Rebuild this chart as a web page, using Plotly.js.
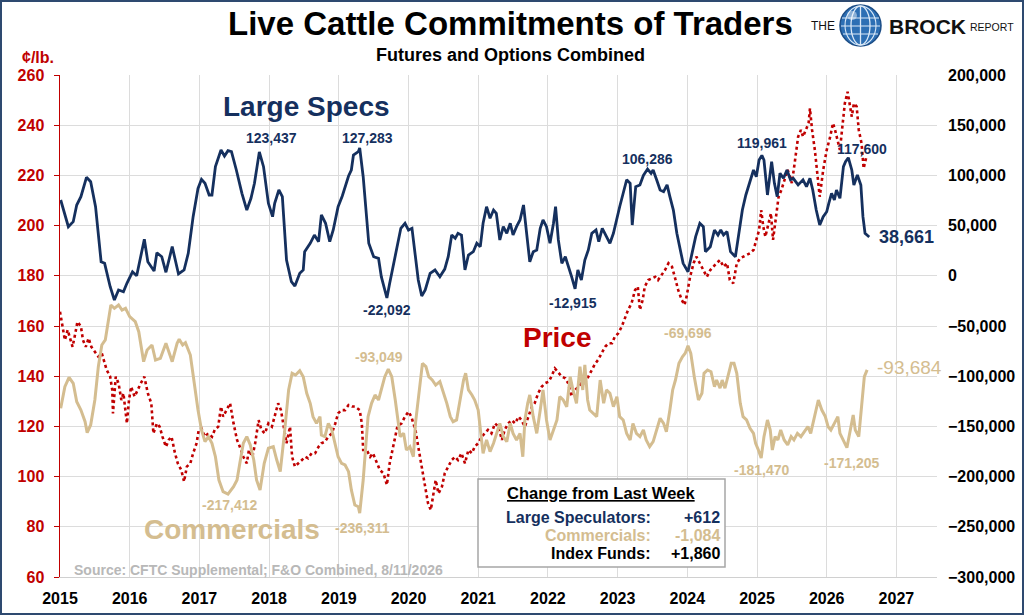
<!DOCTYPE html>
<html>
<head>
<meta charset="utf-8">
<script src="https://cdn.plot.ly/plotly-3.0.1.min.js"></script>
<style>
  html, body { margin: 0; padding: 0; background: #fff; }
  #graphDiv { width: 1020px; height: 611px; border: 2px solid #2e4a70; }
</style>
</head>
<body>
<div id="graphDiv"></div>
<script>
// Large speculators net position (contracts), weekly readings
const specYears = [2015.01,2015.12,2015.19,2015.24,2015.30,2015.38,2015.44,2015.51,2015.59,2015.64,2015.72,2015.78,2015.84,2015.91,2015.96,
  2016.04,2016.10,2016.21,2016.26,2016.35,2016.39,2016.46,2016.52,2016.61,2016.70,2016.78,2016.84,2016.91,2016.98,
  2017.03,2017.08,2017.14,2017.18,2017.23,2017.31,2017.36,2017.41,2017.46,2017.53,2017.61,2017.68,2017.74,2017.79,2017.86,2017.92,2017.99,
  2018.05,2018.08,2018.14,2018.19,2018.25,2018.32,2018.37,2018.44,2018.49,2018.51,2018.59,2018.65,2018.71,2018.75,2018.81,2018.87,2018.92,2018.99,
  2019.05,2019.14,2019.18,2019.21,2019.28,2019.30,2019.35,2019.40,2019.43,2019.50,2019.57,2019.61,2019.65,2019.69,2019.73,2019.78,2019.84,2019.89,2019.95,
  2020.00,2020.05,2020.09,2020.14,2020.19,2020.24,2020.31,2020.38,2020.45,2020.52,2020.57,2020.62,2020.67,2020.71,2020.76,2020.81,2020.86,2020.93,2020.98,
  2021.03,2021.07,2021.12,2021.17,2021.22,2021.26,2021.31,2021.36,2021.41,2021.46,2021.50,2021.55,2021.60,2021.65,2021.70,2021.74,2021.79,2021.84,2021.89,2021.93,2021.98,
  2022.03,2022.08,2022.11,2022.15,2022.20,2022.25,2022.29,2022.34,2022.39,2022.43,2022.48,2022.53,2022.58,2022.63,2022.69,2022.73,2022.78,2022.84,2022.89,2022.94,2022.99,
  2023.03,2023.08,2023.13,2023.18,2023.21,2023.26,2023.32,2023.37,2023.43,2023.48,2023.51,2023.56,2023.61,2023.66,2023.71,2023.75,2023.80,2023.85,2023.90,2023.94,
  2024.01,2024.06,2024.12,2024.18,2024.23,2024.26,2024.33,2024.39,2024.44,2024.48,2024.52,2024.57,2024.62,2024.69,2024.74,2024.79,2024.84,2024.91,2024.95,2024.99,
  2025.03,2025.07,2025.10,2025.15,2025.18,2025.21,2025.25,2025.29,2025.33,2025.38,2025.43,2025.48,2025.52,2025.59,2025.66,2025.71,2025.76,2025.80,2025.85,2025.90,2025.95,
  2026.00,2026.03,2026.07,2026.11,2026.14,2026.19,2026.24,2026.27,2026.31,2026.36,2026.39,2026.44,2026.49,2026.52,2026.55,2026.61];
const specNet = [75500,48900,53900,70500,78800,98100,93700,68800,14000,12400,-10900,-24100,-14100,-15900,-7500,
  4000,0,36400,14000,4800,23000,19000,3500,29000,1800,5800,22400,58900,87000,
  96100,92100,80500,80500,108700,125300,119300,124600,123600,105400,82200,65500,77200,92100,123437,108700,72200,
  58900,72200,85500,78800,15700,-5900,-10200,2500,5800,24000,32400,40600,34000,60600,52300,34000,45600,68800,
  79500,99400,105400,120300,123600,127283,98700,58900,32400,19000,17400,-900,-10900,-22092,-7500,9100,32400,47300,52300,
  45600,47300,25700,-4200,-20100,-14100,2500,5800,-900,6700,19000,40600,37300,42300,40600,5800,20700,24000,32400,
  29000,52300,68800,57300,65500,62200,35700,48900,42300,52300,40600,48900,55600,70500,35700,14000,24000,25700,47300,55600,48900,
  32400,52300,68800,35700,12400,19000,10800,-900,-12915,5800,-4200,15700,25700,42300,45600,34000,47300,39000,32400,42300,58900,
  68800,82200,95600,92100,50600,88800,90500,100000,106286,102100,105400,95600,85500,83800,90500,78800,65500,42300,25700,12400,
  4000,19000,39000,52300,48900,24000,29000,45600,40600,45600,40600,44000,24000,19000,42300,65500,80500,95600,105400,98700,
  115300,119961,115300,80500,95600,113600,92100,78800,102100,97100,105400,95600,97100,90500,95600,88800,97100,85500,65500,50600,58900,
  63800,72200,82200,75500,85500,77200,108700,113600,117600,105400,90500,100400,90500,58900,42300,38661];

// Commercials net position (contracts)
const commYears = [2015.01,2015.07,2015.13,2015.19,2015.24,2015.30,2015.36,2015.39,2015.44,2015.50,2015.55,2015.60,2015.65,2015.70,2015.73,2015.78,2015.84,2015.89,2015.94,
  2016.00,2016.08,2016.13,2016.20,2016.25,2016.32,2016.37,2016.44,2016.52,2016.57,2016.61,2016.68,2016.71,2016.76,2016.80,2016.87,2016.93,2016.98,
  2017.03,2017.08,2017.13,2017.18,2017.23,2017.28,2017.34,2017.41,2017.49,2017.54,2017.58,2017.63,2017.68,2017.73,2017.78,2017.82,2017.87,2017.93,2017.99,
  2018.06,2018.11,2018.16,2018.22,2018.28,2018.33,2018.38,2018.44,2018.49,2018.54,2018.59,2018.63,2018.68,2018.73,2018.75,2018.80,2018.85,2018.90,2018.95,2018.99,
  2019.04,2019.09,2019.14,2019.18,2019.23,2019.28,2019.30,2019.35,2019.39,2019.42,2019.47,2019.52,2019.57,2019.61,2019.66,2019.71,2019.76,2019.81,2019.85,2019.88,2019.93,2019.97,
  2020.02,2020.07,2020.10,2020.15,2020.20,2020.25,2020.29,2020.34,2020.39,2020.45,2020.50,2020.55,2020.60,2020.64,2020.69,2020.74,2020.79,2020.82,2020.86,2020.91,2020.95,
  2021.00,2021.04,2021.07,2021.12,2021.17,2021.22,2021.27,2021.31,2021.36,2021.41,2021.46,2021.50,2021.55,2021.60,2021.64,2021.67,2021.71,2021.74,2021.79,2021.84,2021.89,2021.93,2021.98,
  2022.03,2022.08,2022.13,2022.17,2022.22,2022.27,2022.32,2022.36,2022.41,2022.46,2022.50,2022.53,2022.57,2022.60,2022.65,2022.70,2022.75,2022.80,2022.84,2022.89,2022.94,2022.99,
  2023.03,2023.08,2023.13,2023.18,2023.22,2023.27,2023.32,2023.37,2023.41,2023.46,2023.51,2023.56,2023.61,2023.66,2023.70,2023.75,2023.79,2023.83,2023.88,2023.93,2023.97,
  2024.01,2024.05,2024.10,2024.16,2024.21,2024.24,2024.29,2024.34,2024.39,2024.42,2024.47,2024.50,2024.54,2024.58,2024.63,2024.67,2024.71,2024.76,2024.80,2024.85,2024.90,2024.95,2024.98,
  2025.02,2025.06,2025.10,2025.15,2025.19,2025.22,2025.26,2025.30,2025.34,2025.39,2025.44,2025.49,2025.53,2025.58,2025.63,2025.68,2025.73,2025.77,2025.82,2025.88,2025.93,2025.98,
  2026.02,2026.06,2026.11,2026.16,2026.19,2026.24,2026.29,2026.33,2026.38,2026.41,2026.46,2026.50,2026.54,2026.58];
const commNet = [-132000,-110500,-101100,-107100,-125400,-133700,-145300,-156300,-148600,-123700,-90500,-68900,-63900,-40700,-29100,-32400,-29100,-34100,-32400,
  -40700,-45700,-55700,-85500,-73900,-68900,-83900,-82200,-67200,-77200,-85500,-67200,-63200,-68900,-66600,-78900,-110500,-133700,
  -153600,-165200,-160200,-166800,-180200,-203400,-215000,-217412,-210000,-203400,-186800,-166800,-160200,-168500,-183500,-203400,-213300,-186800,-171800,
  -170200,-183500,-195100,-156900,-113700,-97100,-98800,-94500,-100500,-117000,-127000,-140300,-147000,-140300,-158600,-160200,-147000,-153600,-166800,-180200,
  -186800,-188400,-195100,-213300,-228300,-230000,-236311,-203400,-166800,-140300,-127000,-118700,-123700,-113700,-100500,-93049,-100500,-123700,-147000,-160200,-156900,-173500,
  -170200,-180200,-147000,-113700,-87200,-90500,-100500,-103800,-108800,-105400,-115400,-127000,-140300,-145300,-143600,-123700,-103800,-97100,-113700,-118700,-123700,
  -133700,-160200,-176800,-163500,-175100,-166800,-156900,-147000,-160200,-165200,-147000,-156900,-163500,-156900,-180200,-143600,-127000,-118700,-140300,-156900,-133700,-113700,-143600,
  -163500,-153600,-143600,-120400,-123700,-130400,-100500,-113700,-127000,-90500,-113700,-88800,-123700,-133700,-137000,-140300,-103800,-127000,-113700,-117000,-130400,-120400,
  -140300,-143600,-156900,-163500,-147000,-156900,-160200,-153600,-163500,-170200,-165200,-153600,-141900,-147000,-155300,-133700,-113700,-103800,-87200,-80600,-77200,
  -69696,-77200,-100500,-123700,-117000,-97100,-93800,-95500,-110500,-103800,-112000,-103800,-112000,-100500,-87200,-87200,-97100,-127000,-140300,-143600,-151900,-156900,-166800,
  -173500,-181470,-160200,-143600,-153600,-173500,-160200,-163500,-153600,-163500,-168500,-160200,-163500,-156900,-160200,-155300,-150300,-156900,-140300,-123700,-133700,-140300,
  -150300,-153600,-147000,-140300,-156900,-163500,-171205,-156900,-138600,-153600,-160200,-130400,-100500,-93684];

// Live cattle futures price (cents per lb.)
const priceYears = [2015.00,2015.03,2015.07,2015.11,2015.14,2015.18,2015.22,2015.25,2015.30,2015.33,2015.37,2015.41,2015.45,2015.50,2015.55,2015.60,2015.64,2015.67,2015.72,2015.75,2015.76,2015.80,2015.84,2015.88,2015.91,2015.96,2015.99,
  2016.02,2016.07,2016.11,2016.16,2016.21,2016.26,2016.31,2016.34,2016.39,2016.43,2016.47,2016.52,2016.56,2016.60,2016.65,2016.69,2016.74,2016.78,2016.82,2016.87,2016.91,2016.96,2016.99,
  2017.03,2017.08,2017.13,2017.18,2017.22,2017.27,2017.31,2017.34,2017.39,2017.44,2017.49,2017.54,2017.58,2017.63,2017.68,2017.71,2017.76,2017.80,2017.85,2017.89,2017.94,2017.99,
  2018.04,2018.08,2018.13,2018.17,2018.22,2018.25,2018.30,2018.33,2018.37,2018.42,2018.47,2018.52,2018.56,2018.61,2018.66,2018.71,2018.75,2018.80,2018.85,2018.90,2018.95,2018.99,
  2019.04,2019.09,2019.14,2019.19,2019.23,2019.30,2019.33,2019.35,2019.40,2019.45,2019.49,2019.54,2019.59,2019.64,2019.69,2019.73,2019.77,2019.81,2019.84,2019.90,2019.95,
  2020.00,2020.04,2020.07,2020.10,2020.14,2020.18,2020.21,2020.25,2020.28,2020.32,2020.36,2020.39,2020.43,2020.48,2020.52,2020.57,2020.62,2020.67,2020.71,2020.76,2020.81,2020.86,2020.91,2020.95,
  2021.00,2021.05,2021.10,2021.14,2021.19,2021.24,2021.29,2021.34,2021.38,2021.43,2021.48,2021.53,2021.58,2021.62,2021.67,2021.72,2021.77,2021.81,2021.86,2021.91,2021.96,
  2022.01,2022.05,2022.10,2022.15,2022.20,2022.25,2022.29,2022.34,2022.39,2022.44,2022.48,2022.53,2022.58,2022.63,2022.68,2022.72,2022.77,2022.82,2022.87,2022.92,2022.96,
  2023.01,2023.06,2023.11,2023.15,2023.20,2023.25,2023.29,2023.32,2023.36,2023.39,2023.44,2023.49,2023.54,2023.58,2023.63,2023.68,2023.73,2023.78,2023.82,2023.87,2023.92,2023.96,2023.99,
  2024.04,2024.09,2024.13,2024.18,2024.23,2024.28,2024.33,2024.37,2024.42,2024.47,2024.52,2024.57,2024.61,2024.66,2024.71,2024.76,2024.80,2024.85,2024.90,2024.95,
  2025.00,2025.03,2025.06,2025.09,2025.12,2025.16,2025.20,2025.23,2025.27,2025.31,2025.35,2025.40,2025.44,2025.47,2025.50,2025.54,2025.59,2025.63,2025.66,2025.70,2025.74,2025.76,2025.79,2025.83,2025.87,2025.90,2025.95,
  2026.00,2026.05,2026.09,2026.12,2026.16,2026.19,2026.23,2026.26,2026.30,2026.32,2026.36,2026.39,2026.43,2026.46,2026.50,2026.53,2026.57];
const priceCents = [165.7,161.1,154.4,158.4,155.7,151.7,157.1,161.7,159.8,154.4,151.7,155.1,151.7,149.8,147.8,149.1,145.1,142.5,139.8,134.5,125.2,139.8,137.2,130.5,133.2,121.2,130.5,
  135.8,131.9,134.5,137.2,139.8,133.2,129.2,117.2,121.2,119.9,115.9,111.9,114.6,115.9,109.3,105.3,102.6,98.0,104.0,105.3,109.3,113.3,118.6,
  119.2,115.9,117.2,115.9,118.6,119.9,127.9,123.9,126.5,129.2,121.2,114.6,111.9,107.9,105.3,110.6,107.9,113.3,122.5,118.6,117.2,121.2,
  119.9,123.9,129.2,126.5,118.6,113.3,119.9,107.9,104.0,105.3,106.6,107.9,107.3,109.3,109.3,111.9,113.3,113.9,115.9,117.2,121.2,125.2,
  126.5,126.5,128.5,127.9,127.9,126.5,121.2,110.6,110.6,107.9,109.3,106.0,102.6,101.3,96.7,105.3,110.6,115.9,119.9,121.2,123.9,
  125.9,123.9,121.2,118.6,111.9,105.3,100.0,94.7,89.4,86.7,94.7,98.6,93.3,96.0,101.3,104.0,106.6,107.9,106.6,109.3,105.3,110.6,109.3,111.9,
  113.3,115.9,117.2,118.6,117.2,121.2,119.9,114.6,118.6,121.2,122.5,121.2,123.9,122.5,119.9,123.9,127.9,129.2,133.2,135.8,137.2,
  137.8,139.8,143.1,141.2,139.8,139.2,137.2,131.9,134.5,135.8,137.2,137.2,139.8,142.5,145.1,146.5,149.1,151.7,153.1,153.1,155.7,
  157.1,159.8,163.7,166.4,169.0,174.3,175.7,166.4,170.4,175.7,178.3,179.0,179.6,178.3,180.3,182.3,185.0,183.6,179.6,174.3,170.4,168.4,171.7,
  179.6,185.0,187.6,185.0,182.3,179.6,182.3,183.6,185.0,186.3,183.6,185.0,178.3,177.0,185.0,187.0,187.6,188.3,189.0,190.3,
  195.6,198.2,206.2,199.6,195.6,200.9,204.9,194.3,203.5,211.5,214.2,218.2,222.2,219.5,216.9,224.8,235.4,238.1,235.4,238.1,240.8,246.7,238.1,230.1,220.8,211.5,222.2,
  230.1,235.4,240.8,238.1,232.8,230.1,240.8,248.7,253.3,250.0,243.4,248.7,247.4,238.1,232.8,222.8,227.5];

const yearTicks = [2015,2016,2017,2018,2019,2020,2021,2022,2023,2024,2025,2026,2027];
const changeNames = ['Large Speculators:', 'Commercials:', 'Index Funds:'];
const changeValues = ['+612', '-1,084', '+1,860'];

// Labelled turning points: [year, value]
const specMarks = [[2017.86, 123437], [2019.30, 127283], [2019.69, -22092], [2022.39, -12915], [2023.43, 106286], [2025.07, 119961], [2026.31, 117600]];
const commMarks = [[2017.41, -217412], [2019.30, -236311], [2019.71, -93049], [2024.01, -69696], [2025.06, -181470], [2026.29, -171205]];

const NAVY = '#15305e';
const TAN = '#d4bd90';
const RED = '#c00000';
const FONT = 'Liberation Sans, Arial, sans-serif';

// plot area in graph pixels
const L = 58, T = 73, W = 877, H = 502;
function px(ix) { return (ix - 2 - L) / W; }
function py(iy) { return 1 - (iy - 2 - T) / H; }

const fmt = v => v.toLocaleString('en-US');

const traces = [
  {
    x: priceYears, y: priceCents, type: 'scatter', mode: 'lines', yaxis: 'y',
    line: { color: RED, width: 2.6, dash: 'dot' }, hoverinfo: 'skip'
  },
  {
    x: commYears, y: commNet, type: 'scatter', mode: 'lines', yaxis: 'y2',
    line: { color: TAN, width: 3 }, hoverinfo: 'skip'
  },
  {
    x: specYears, y: specNet, type: 'scatter', mode: 'lines', yaxis: 'y2',
    line: { color: NAVY, width: 2.8 }, hoverinfo: 'skip'
  }
];

const annotations = [];
function note(text, ix, iy, size, color, opts) {
  annotations.push(Object.assign({
    text: text, xref: 'paper', yref: 'paper', x: px(ix), y: py(iy),
    xanchor: 'center', yanchor: 'middle', showarrow: false,
    font: { family: FONT, size: size, color: color }
  }, opts || {}));
}

// titles
note('<b>Live Cattle Commitments of Traders</b>', 510, 23, 33, '#000');
note('<b>Futures and Options Combined</b>', 510, 55, 18, '#000');
note('<b>¢/lb.</b>', 38, 57, 16, RED);

// logo text
note('THE', 823, 26, 12, '#111');
note('<b>BROCK</b>', 927, 26, 21, '#111');
note('REPORT', 992, 27, 10.5, '#111');

// series names
note('<b>Large Specs</b>', 306, 107, 28, NAVY);
note('<b>Price</b>', 557, 337, 28, RED);
note('<b>Commercials</b>', 232, 529, 28, TAN);

// source
note('<b>Source: CFTC Supplemental; F&O Combined, 8/11/2026</b>', 72, 570, 14, '#b8b8b8', { xanchor: 'left' });

// change box
note('<b><u>Change from Last Week</u></b>', 601, 493, 16.5, '#000');
const rowColors = [NAVY, TAN, '#000'];
const rowY = [517, 535, 553];
changeNames.forEach((n, i) => {
  note('<b>' + n + '</b>', 653, rowY[i], 16, rowColors[i], { xanchor: 'right' });
  note('<b>' + changeValues[i] + '</b>', 722, rowY[i], 16, rowColors[i], { xanchor: 'right' });
});

// point labels
const specShift = [[12, 14], [8, 10], [0, -12], [-2, -14], [0, 10], [0, 12], [14, 9]];
specMarks.forEach((m, i) => {
  annotations.push({
    text: '<b>' + fmt(m[1]) + '</b>', x: m[0], y: m[1], xref: 'x', yref: 'y2',
    xshift: specShift[i][0], yshift: specShift[i][1], showarrow: false,
    font: { family: FONT, size: 14, color: NAVY }
  });
});
const commShift = [[2, -11], [3, -15], [-9, 12], [0, 13], [0, -12], [5, -15]];
commMarks.forEach((m, i) => {
  annotations.push({
    text: '<b>' + fmt(m[1]) + '</b>', x: m[0], y: m[1], xref: 'x', yref: 'y2',
    xshift: commShift[i][0], yshift: commShift[i][1], showarrow: false,
    font: { family: FONT, size: 14, color: TAN }
  });
});
// last values
const lastSpec = specNet.length - 1, lastComm = commNet.length - 1;
annotations.push({
  text: '<b>' + fmt(specNet[lastSpec]) + '</b>', x: specYears[lastSpec], y: specNet[lastSpec],
  xref: 'x', yref: 'y2', xanchor: 'left', xshift: 8, showarrow: false,
  font: { family: FONT, size: 18, color: NAVY }
});
annotations.push({
  text: fmt(commNet[lastComm]), x: commYears[lastComm], y: commNet[lastComm],
  xref: 'x', yref: 'y2', xanchor: 'left', xshift: 8, yshift: 2, showarrow: false,
  font: { family: FONT, size: 19, color: TAN }
});

// shapes: change box and globe
const shapes = [
  { type: 'rect', xref: 'paper', yref: 'paper', x0: px(478), x1: px(725), y0: py(567), y1: py(479),
    fillcolor: '#fff', line: { color: '#a6a6a6', width: 1.5 }, layer: 'above' },
  { type: 'circle', xref: 'paper', yref: 'paper', x0: px(840), x1: px(881), y0: py(46), y1: py(5),
    fillcolor: '#2d6fb4', line: { color: '#1c4d86', width: 1.5 } },
  { type: 'circle', xref: 'paper', yref: 'paper', x0: px(851), x1: px(870), y0: py(45), y1: py(6),
    line: { color: '#dbe9f7', width: 1.3 } },
  { type: 'circle', xref: 'paper', yref: 'paper', x0: px(845), x1: px(876), y0: py(45), y1: py(6),
    line: { color: '#dbe9f7', width: 1.1 } },
  { type: 'line', xref: 'paper', yref: 'paper', x0: px(860.5), x1: px(860.5), y0: py(45), y1: py(6),
    line: { color: '#dbe9f7', width: 1.3 } },
  { type: 'line', xref: 'paper', yref: 'paper', x0: px(842), x1: px(879), y0: py(18), y1: py(18),
    line: { color: '#dbe9f7', width: 1.1 } },
  { type: 'line', xref: 'paper', yref: 'paper', x0: px(841), x1: px(880), y0: py(26), y1: py(26),
    line: { color: '#dbe9f7', width: 1.1 } },
  { type: 'line', xref: 'paper', yref: 'paper', x0: px(843), x1: px(878), y0: py(34), y1: py(34),
    line: { color: '#dbe9f7', width: 1.1 } },
  { type: 'circle', xref: 'paper', yref: 'paper', x0: px(847), x1: px(857), y0: py(20), y1: py(11),
    fillcolor: 'rgba(255,255,255,0.45)', line: { width: 0 } }
];

const layout = {
  width: 1020, height: 611,
  margin: { l: L, r: 1020 - L - W, t: T, b: 611 - T - H },
  paper_bgcolor: '#fff', plot_bgcolor: '#fff',
  showlegend: false, hovermode: false,
  font: { family: FONT },
  xaxis: {
    range: [2015, 2015 + W / 69.7], tickvals: yearTicks, ticktext: yearTicks.map(String),
    showgrid: true, gridcolor: '#dcdcdc', gridwidth: 1, zeroline: false,
    showline: true, linecolor: '#d0d0d0', linewidth: 1,
    ticks: 'outside', ticklen: 7, tickcolor: 'rgba(0,0,0,0)',
    tickfont: { family: FONT, size: 16, color: '#000', weight: 'bold' }
  },
  yaxis: {
    range: [60, 260], dtick: 20, tick0: 60,
    showgrid: true, gridcolor: '#dcdcdc', gridwidth: 1, zeroline: false,
    showline: true, linecolor: RED, linewidth: 1.5,
    ticks: 'outside', ticklen: 5, tickcolor: RED, ticklabelstandoff: 6,
    tickfont: { family: FONT, size: 16, color: RED, weight: 'bold' }
  },
  yaxis2: {
    overlaying: 'y', side: 'right', range: [-300000, 200000], dtick: 50000, tick0: -300000,
    showgrid: false, zeroline: false, showline: false, tickformat: ',d',
    ticks: '', ticklabelstandoff: 10,
    tickfont: { family: FONT, size: 16, color: '#000', weight: 'bold' }
  },
  annotations: annotations,
  shapes: shapes
};

Plotly.newPlot('graphDiv', traces, layout, { displayModeBar: false, staticPlot: true });
</script>
</body>
</html>
